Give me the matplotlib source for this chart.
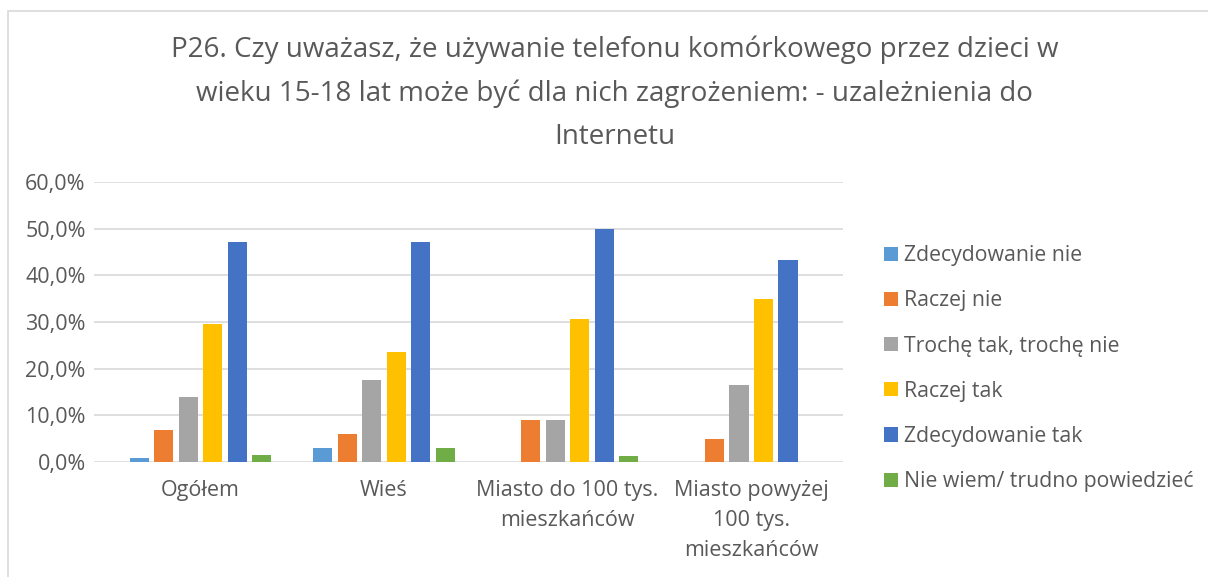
import matplotlib.pyplot as plt
import numpy as np
from matplotlib.patches import Patch, Rectangle

plt.rcParams['font.family'] = ['Open Sans', 'DejaVu Sans']

# Dane
categories = ['Ogółem', 'Wieś', 'Miasto do 100 tys.\nmieszkańców', 'Miasto powyżej\n100 tys.\nmieszkańców']
series_names = ['Zdecydowanie nie', 'Raczej nie', 'Trochę tak, trochę nie',
                'Raczej tak', 'Zdecydowanie tak', 'Nie wiem/ trudno powiedzieć']
zdecydowanie_nie = [0.9, 2.9, 0.0, 0.0]
raczej_nie = [6.8, 5.9, 8.9, 5.0]
troche = [14.0, 17.6, 8.9, 16.6]
raczej_tak = [29.6, 23.5, 30.6, 34.9]
zdecydowanie_tak = [47.1, 47.1, 50.0, 43.2]
nie_wiem = [1.4, 2.9, 1.2, 0.0]
yticks = [0, 10, 20, 30, 40, 50, 60]

series = [zdecydowanie_nie, raczej_nie, troche, raczej_tak, zdecydowanie_tak, nie_wiem]
colors = ['#5B9BD5', '#ED7D31', '#A5A5A5', '#FFC000', '#4472C4', '#70AD47']
text_color = '#595959'

fig = plt.figure(figsize=(12.08, 5.77), dpi=100)
ax = fig.add_axes([0.0778, 0.1993, 0.6200, 0.4853])

# Ramka wykresu
fig.patches.append(Rectangle((8 / 1208, -0.01), 1.2, 1 - 11 / 577 + 0.01,
                             transform=fig.transFigure, fill=False,
                             edgecolor='#D9D9D9', linewidth=1.2))

x = np.arange(len(categories))
slot = 0.1334
for i, (vals, col) in enumerate(zip(series, colors)):
    ax.bar(x + (i - 2.5) * slot, vals, width=0.105, color=col, zorder=3)

ax.set_xlim(-0.58, 3.5)
ax.set_ylim(0, 60)
ax.set_yticks(yticks)
ax.set_yticklabels([f'{v:.1f}%'.replace('.', ',') for v in yticks])
ax.set_xticks(x)
ax.set_xticklabels(categories, linespacing=1.56)
ax.grid(axis='y', color='#D9D9D9', linewidth=1.2, zorder=0)
for s in ['top', 'right', 'left', 'bottom']:
    ax.spines[s].set_visible(False)
ax.tick_params(axis='both', length=0, labelsize=15.5, colors=text_color)
ax.tick_params(axis='x', pad=13)
ax.tick_params(axis='y', pad=6)

fig.text(0.509, 0.839,
         'P26. Czy uważasz, że używanie telefonu komórkowego przez dzieci w\n'
         'wieku 15-18 lat może być dla nich zagrożeniem: - uzależnienia do\n'
         'Internetu',
         ha='center', va='center', fontsize=20, color=text_color, linespacing=1.72)

handles = [Patch(facecolor=c, edgecolor='none') for c in colors]
fig.legend(handles, series_names, loc='upper left', bbox_to_anchor=(0.725, 0.59),
           frameon=False, fontsize=15.3, labelcolor=text_color,
           handlelength=0.65, handleheight=0.65, handletextpad=0.3, labelspacing=1.14,
           borderaxespad=0)

fig.savefig('out.png', dpi=100)
